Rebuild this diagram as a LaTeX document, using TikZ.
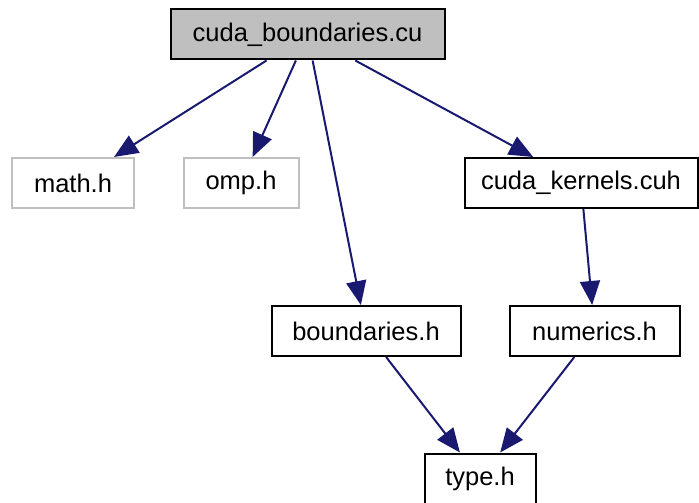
\documentclass[tikz,border=0pt]{standalone}
\usepackage{fontspec}
\setmainfont{Liberation Sans}
\usetikzlibrary{arrows.meta}
\definecolor{edgeblue}{HTML}{191970}
\definecolor{sysgray}{HTML}{BFBFBF}
\begin{document}
\begin{tikzpicture}[x=1pt, y=-1pt, every node/.style={draw=black, line width=2pt, minimum height=50pt, inner sep=0pt, font=\fontsize{25.5}{30}\selectfont}, current/.style={fill=sysgray}, system/.style={draw=sysgray}, include/.style={draw=edgeblue, line width=2pt, -{Triangle[length=24pt, width=20pt]}}]
\useasboundingbox (0,0) rectangle (699,503);

\node[current, minimum width=274pt] (cudab) at (307.5,34.5) {cuda\_boundaries.cu};
\node[system, minimum width=122pt] (math) at (73,183) {math.h};
\node[system, minimum width=115pt] (omp) at (241,183) {omp.h};
\node[minimum width=233pt] (kernels) at (581,183) {cuda\_kernels.cuh};
\node[minimum width=189pt] (bound) at (366,331) {boundaries.h};
\node[minimum width=170pt] (numerics) at (594.5,331) {numerics.h};
\node[minimum width=111pt] (type) at (480,478.5) {type.h};

\draw[include] (cudab) -- (math);
\draw[include] (cudab) -- (omp);
\draw[include] (cudab) -- (bound);
\draw[include] (cudab) -- (kernels);
\draw[include] (kernels) -- (numerics);
\draw[include] (bound) -- (type);
\draw[include] (numerics) -- (type);
\end{tikzpicture}
\end{document}
